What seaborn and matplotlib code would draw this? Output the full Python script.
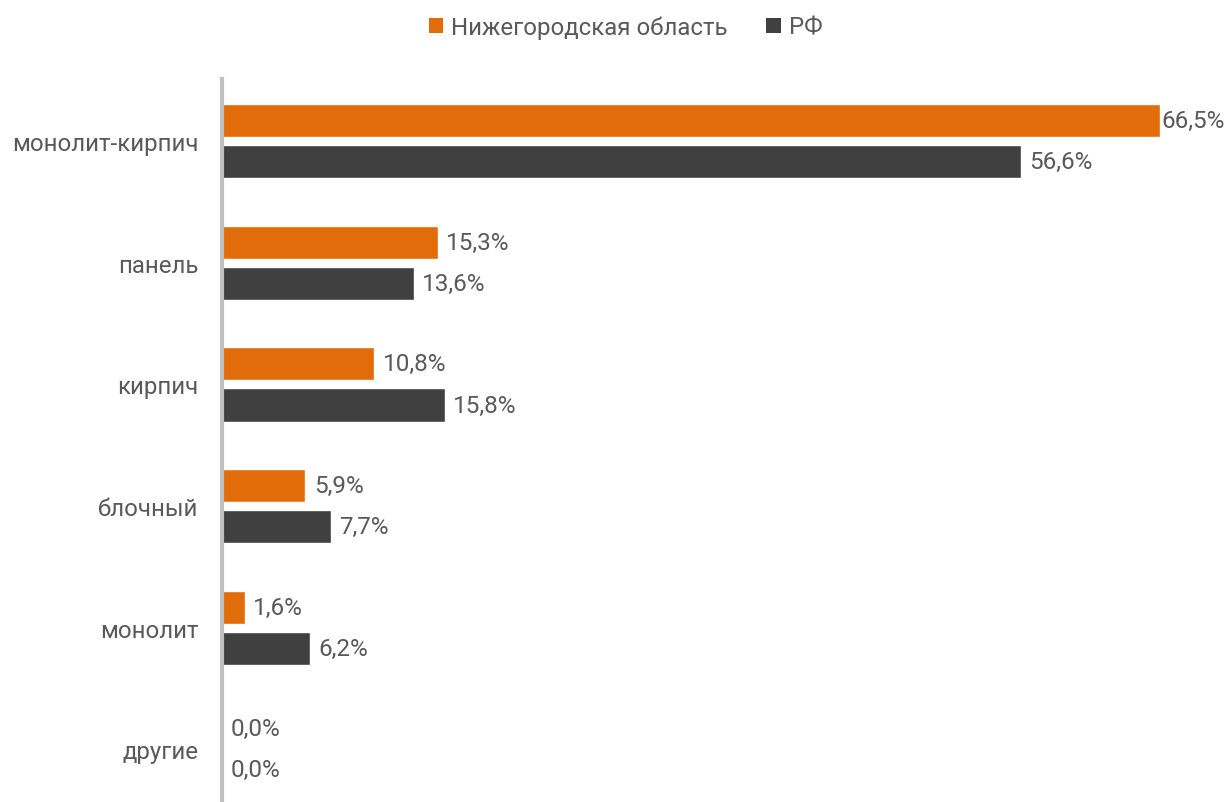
import matplotlib
matplotlib.use("Agg")
import matplotlib.pyplot as plt
import seaborn as sns
import pandas as pd

categories = ["монолит-кирпич", "панель", "кирпич", "блочный", "монолит", "другие"]
region_values = [66.5, 15.3, 10.8, 5.9, 1.6, 0.0]
rf_values = [56.6, 13.6, 15.8, 7.7, 6.2, 0.0]
series_names = ["Нижегородская область", "РФ"]
colors = ["#E36C0A", "#404040"]

sns.set_theme(style="white")
plt.rcParams["font.family"] = ["Roboto", "DejaVu Sans"]

df = pd.DataFrame({
    "cat": categories * 2,
    "val": region_values + rf_values,
    "series": [series_names[0]] * len(categories) + [series_names[1]] * len(categories),
})

fig = plt.figure(figsize=(12.27, 8.03), dpi=100)
ax = fig.add_axes([0.181, -0.01, 0.805, 0.91])

sns.barplot(data=df, y="cat", x="val", hue="series", order=categories,
            hue_order=series_names, palette=colors, orient="h",
            width=0.675, gap=0.195, ax=ax, legend=False, saturation=1)

max_val = max(region_values + rf_values)
for cont in ax.containers:
    for bar, v in zip(cont, cont.datavalues):
        pad = 1 if v == max_val else 6
        ax.annotate(f"{v:.1f}%".replace(".", ","),
                    xy=(bar.get_x() + bar.get_width(), bar.get_y() + bar.get_height() / 2),
                    xytext=(pad, 0), textcoords="offset points",
                    ha="left", va="center", fontsize=17.5, color="#595959")

ax.set_xlim(0, 70)
ax.set_ylim(5.5, -0.51)
ax.set_xlabel("")
ax.set_ylabel("")
ax.set_xticks([])
ax.tick_params(axis="y", length=0, pad=17, labelsize=17.3, labelcolor="#595959")
for s in ["top", "right", "bottom"]:
    ax.spines[s].set_visible(False)
ax.spines["left"].set_color("#BFBFBF")
ax.spines["left"].set_linewidth(3)

from matplotlib.patches import Patch
handles = [Patch(facecolor=c, edgecolor="none") for c in colors]
fig.legend(handles, series_names, loc="center", bbox_to_anchor=(0.510, 0.965), ncol=2,
           frameon=False, fontsize=17.3, labelcolor="#595959", handlelength=0.6,
           handleheight=0.6, handletextpad=0.35, columnspacing=1.6)

fig.savefig("out.png", dpi=100)
